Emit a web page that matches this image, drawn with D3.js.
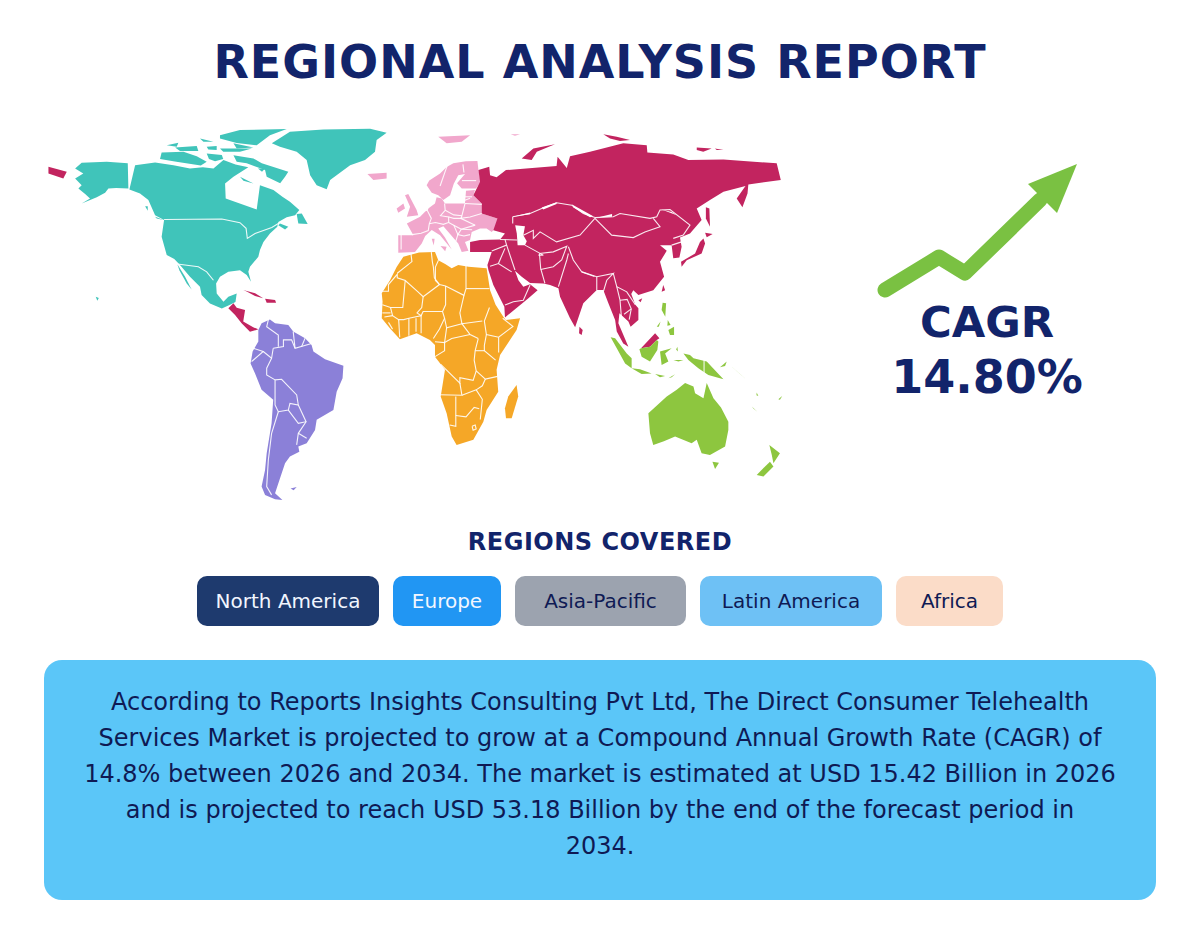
<!DOCTYPE html>
<html>
<head>
<meta charset="utf-8">
<title>Regional Analysis Report</title>
<script src="https://cdn.jsdelivr.net/npm/d3@7/dist/d3.min.js"></script>
<style>
  body { margin: 0; background: #fff; }
  text { font-family: "DejaVu Sans", sans-serif; }
</style>
</head>
<body>
<div id="chart"></div>
<script>
"use strict";

const titleText = "REGIONAL ANALYSIS REPORT";
const regionsHeading = "REGIONS COVERED";
const cagrLabel = "CAGR";
const cagrValue = "14.80%";

const regionNames = ["North America", "Europe", "Asia-Pacific", "Latin America", "Africa"];
const chipColors = ["#1E3A6E", "#2196F3", "#9CA3AF", "#6EC1F5", "#FBDCC8"];
const chipTextColors = ["#F2F6FF", "#F2F6FF", "#0F1A54", "#0F1A54", "#0F1A54"];

const summaryLines = [
    "According to Reports Insights Consulting Pvt Ltd, The Direct Consumer Telehealth",
    "Services Market is projected to grow at a Compound Annual Growth Rate (CAGR) of",
    "14.8% between 2026 and 2034. The market is estimated at USD 15.42 Billion in 2026",
    "and is projected to reach USD 53.18 Billion by the end of the forecast period in",
    "2034."
];

// Outlines are [lon, lat] rings
const northAmericaLand = [
    [[-163.4,68.6],[-151.1,69],[-140.8,68.4],[-140.5,59.1],[-146.5,59.3],[-150.3,59.1],[-151.9,57.5],[-156,55.8],[-163.4,53.5],[-159.3,55.4],[-161.7,57],[-165,59.1],[-163.4,60.3],[-166.6,62.8],[-162.6,64.6],[-166.6,66.5]],
    [[-137.2,67.7],[-127.4,68.7],[-118.4,67.7],[-110.3,66.5],[-104,66.9],[-98.8,66.5],[-93.9,69.6],[-88,68],[-81.7,66.9],[-89,63.4],[-93.1,60.9],[-92.8,55.4],[-77.6,51.3],[-76,60.3],[-69.4,58.5],[-65,56],[-61.3,54.2],[-56.7,51.1],[-58.8,49.2],[-62.9,48.4],[-67,46.7],[-67.5,44.9],[-71.1,42.4],[-74.3,39.3],[-76,36.3],[-76.8,33.8],[-80.9,30.1],[-81.7,28.2],[-80.4,24.5],[-82.5,27],[-85.8,28.8],[-91.5,28.2],[-95.6,26.4],[-97.5,23.9],[-97.2,20.2],[-93.9,17.1],[-91.5,19],[-87.4,20.2],[-88,17],[-91.2,15.8],[-94.7,14.6],[-100.5,16.5],[-104.6,19.6],[-105.4,22.7],[-110.3,26.4],[-115.2,30.7],[-118,33],[-121.7,34.4],[-124.2,41.2],[-123,47.4],[-127.4,49.2],[-130.7,54.8],[-134.8,57.2],[-140,58.7]],
    [[-116.5,31],[-112.7,26.4],[-109.5,21.7],[-111.9,23.9],[-115.5,28.8]],
    [[-89,71.4],[-79.2,70.2],[-75.1,68.4],[-62.1,65.3],[-63.7,63.4],[-66.1,61],[-72.7,63.4],[-73.5,65.9],[-82.5,68.4],[-87.4,69]],
    [[-124.2,72.4],[-113.5,72.7],[-107,71],[-102.1,69],[-105,67.6],[-117,69],[-125,70]],
    [[-95.6,78.8],[-85.8,80.7],[-62.9,81.1],[-71.1,78.8],[-77.6,75.1],[-87.4,75.9],[-95.6,77.6]],
    [[-89,75.8],[-79.2,74.3],[-87.4,73.9]],
    [[-121.7,75.1],[-116,76],[-116.8,74.5]],
    [[-117.6,74.3],[-107,74.8],[-106.2,73],[-115.2,73]],
    [[-102.1,74.5],[-97.2,74.8],[-97.2,73.3],[-101.3,73.5]],
    [[-105.4,77.6],[-98.8,76.4],[-103.7,76.4]],
    [[-102.1,72],[-94.7,71.5],[-94,70],[-98,69.2],[-101,70]],
    [[-95.6,73.9],[-80,73.9],[-85.8,72.7],[-94,72.7]],
    [[-58,49.6],[-55.5,49.8],[-52.6,45.9],[-57.2,46.1]],
    [[-66.2,46.1],[-62.1,44.9],[-63.7,43.9],[-67,45.5]],
    [[-85.8,63.4],[-79.2,60.9],[-84.1,61.9]],
    [[-77,66.5],[-73.5,66.5],[-75,65.3]],
    [[-127.4,48.6],[-123.3,47.4],[-126.6,48]],
    [[-132.3,52.5],[-131,52.5],[-131,50.8]],
    [[-156.5,19],[-155,18.5],[-155.7,17.5]],
    // Greenland
    [[-70.2,75.8],[-61.3,80.1],[-44.9,80.9],[-22,81.2],[-13.9,79.7],[-18.8,77],[-19.6,72.7],[-24.5,69.6],[-31.8,67.7],[-41.6,62.2],[-43.3,58.8],[-48.2,60.3],[-51.4,64],[-53.1,69.6],[-58,72.7],[-66.2,74.5]]
];
const northAmericaBorders = [
    [[-123,47.6],[-94.7,47.8],[-85.8,46.4],[-82.8,44.3],[-82.2,40.6],[-78.4,42.4],[-70.2,44.6],[-67,46.1]],
    [[-116.5,31.1],[-106.2,30.1],[-102.1,28.2],[-98.8,25.1]]
];

const europeLand = [
    [[-8.2,41.8],[-8.2,35.3],[0,35.6],[3.3,38.7],[5,41.5],[8.2,43.7],[12.3,41.8],[18,36.5],[14.7,40.9],[11.4,44.3],[13.9,45.1],[21.2,38.7],[22.9,35.6],[26.2,36],[24.5,39.3],[27,40],[27.8,43],[31.9,44.3],[35.1,44.3],[37.6,43],[40.4,45.1],[40.4,48],[32.7,49.8],[32.7,53.5],[28.6,56.6],[29.4,58.5],[25,58.2],[24.5,53.5],[14.7,53.5],[13.1,55.4],[10.6,55.8],[9.8,53.5],[6.5,51.7],[2.5,48.6],[-4,46.1],[-0.8,41.8]],
    [[5.7,60.3],[7,62],[12.3,64.6],[15.5,67],[18.8,68.4],[24.9,69.2],[30.6,69.3],[31.1,65.9],[32.2,61.6],[29.9,59.1],[22.9,59.1],[20.6,61],[24.5,64.4],[21.2,64],[19,60.8],[17.2,56.6],[13.9,54.8],[11.4,56.6],[8.2,57.5]],
    [[-4.9,56.6],[-3.3,57],[0.8,51.1],[1.6,49.2],[-4,48.6],[-2.4,52.3]],
    [[-9,51.7],[-5.7,53.5],[-4.9,51.7],[-8.2,50.1]],
    [[11.4,78.2],[27,78.8],[22.9,76.4],[15.5,75.8]],
    [[46.9,79.2],[51.5,79.2],[49,78.6]],
    [[-23.3,64.4],[-13.9,64.9],[-13.9,62.8],[-20.4,62.2]],
    [[12.5,37.8],[15.5,37.5],[14.8,35.8]],
    [[8.2,40.5],[9.6,40.5],[9.2,38]]
];
const europeBorders = [
    [[-1.5,42],[3,42.5],[6.5,43.5],[7,46],[8,48],[6,51],[2.5,50.5]],
    [[7,46],[10,46.5],[13.9,45.8],[16.5,46.5],[16.5,48.5],[12.5,49],[14.8,51],[14.5,53.5]],
    [[-6.8,41.9],[-6.8,36.5]],
    [[6,51],[7,53.5]],[[9,54.8],[9,53.5]],
    [[14.8,51],[19,49.3],[23,49],[24.5,53.5]],
    [[16.5,48.5],[19,48],[22.5,48],[29.5,45.5]],
    [[23,49],[22.5,48],[27,48.5],[32.7,49.8]],
    [[29.5,45.5],[22.7,44],[21,42],[24,41.5],[27,42]],
    [[22.7,44],[28,43.8]],[[16.5,46.5],[19,45.5],[22.7,44]],[[19,45.5],[21,42],[20,39.5]],
    [[24.5,53.5],[32.7,53.2]],[[24.5,56],[28,56]],[[23.8,54.5],[27,55.5]],
    [[12.3,60],[16,68]],[[23.5,68],[24,65]],[[30,62],[23,62]]
];

const asiaLand = [
    [[31.1,65.9],[36.4,67.1],[36.8,64],[40,63.2],[44.6,65.9],[69.4,67.4],[69.9,70.8],[74.4,66.7],[76,71],[85.8,72.7],[102.1,75.8],[113.6,75.1],[113.9,72.4],[126.6,71.7],[134,69.6],[151.2,69.8],[177.3,68.4],[179.3,62.2],[163.4,60.6],[163,57.2],[160.5,52.1],[157.7,55.4],[162,60],[151.2,57.9],[144.6,54.8],[138.1,51.7],[140.5,47.4],[134.8,42.4],[129.9,40.9],[130.7,37.5],[129.6,33.5],[126.6,33.2],[125.8,38.1],[120.1,38.1],[123.4,36],[120.1,31.9],[122.1,26.4],[116.8,21.4],[109.5,19.6],[107,21.4],[106,20],[108,16],[109.5,14.7],[109.5,10.4],[105.7,7.9],[104.6,9.8],[100.2,12.9],[99.7,9.2],[104.6,0.5],[102.1,1.7],[98.9,6.1],[98.1,10.4],[94.8,16.6],[92.3,21.5],[89.1,21.5],[82.5,16.6],[78.5,7.7],[76,11],[71.1,19],[70.3,22.1],[66.2,23.3],[62.9,23.9],[56.4,24.1],[52.3,26.4],[49,28.6],[50.7,25.1],[53.1,22.7],[56.4,23.6],[60.1,21.4],[55.6,18.4],[44.1,11.3],[43.8,15.3],[38.4,23.3],[36,28.8],[35.5,30.7],[37.6,35.6],[27,35.6],[27,39.3],[31.9,40],[41.7,40.2],[44.1,42.4],[38.4,43.6],[40.4,48],[32.7,49.8],[32.7,53.5],[28.6,56.6],[31.9,61.6]],
    [[52.3,70.2],[58,73.9],[68.6,75.5],[59.7,72.7],[57.2,69.6]],
    [[92.3,79.2],[98.9,78.2],[105.4,77],[100.5,76.7],[95.6,77.6]],
    [[138.1,74.3],[145.4,73.9],[141.3,72.7],[138.1,73.3]],
    [[147,73.9],[151.2,73.3],[147.9,73.3]],
    [[80.6,7.9],[82.2,6.7],[81.7,4.8],[80.4,5.5]],
    [[109.5,17.7],[111.4,18.4],[110.6,16.9]],
    [[121.7,23.3],[122.6,21.4],[120.9,20.8]],
    [[141.4,40.6],[142.2,38.7],[140.5,35],[133.2,32.5],[130.7,30.1],[130.4,31.9],[137.3,35],[139.7,39.3]],
    [[142.2,42.7],[145.9,42.2],[143,41]],
    [[142.6,52.1],[144.3,51.7],[144.6,44.9],[142.6,48]],
    [[110.8,-0.1],[117.7,5.5],[119.8,3.6],[118.5,3],[115.2,0.5]],
    // Russian far east past the date line, Caribbean and Central America
    [[-179.7,67.1],[-170.7,65.3],[-172.4,62.8],[-179.7,64.6]],
    [[-91.5,14.7],[-89,16.6],[-87.4,14.9],[-83.3,14.1],[-84.2,9.8],[-79.3,7.7],[-76.8,6.9],[-80.9,6],[-85,9.2],[-88.2,12.2]],
    [[-84.2,21.5],[-78.4,20.3],[-74.4,18.4],[-78.4,19.3],[-82.5,20.9]],
    [[-73.5,18.2],[-68.6,17.8],[-68.1,16.8],[-72.7,16.8]]
];
const caspianSea = [[49.1,45.5],[53.9,45.1],[53.1,41.8],[54.8,39.5],[53.9,38.1],[50.3,38.1],[49.9,42.4]];
// Wider white slivers along the northern Kazakh, Mongolian and Amur borders
const borderSlivers = [
    [[47.9,48.6],[56.4,50.2],[56.4,49.5]],
    [[62.1,52],[69.4,54],[69.4,53.3],[62.9,51.3]],
    [[76.8,53.2],[87.4,48.8],[85.8,48.4],[77.6,52]],
    [[89.9,48.4],[96.6,49.6],[96.6,48.6]],
    [[120.9,51.3],[128.3,49.2],[125.8,50.4]]
];
const asiaBorders = [
    [[47.9,48.6],[56.4,49.8],[62.1,51.7],[69.4,53.8],[76.8,52.9],[82.5,49.8],[88.2,48.3]],
    [[88.2,48.3],[97.2,48.6],[100.5,49.8],[115.2,48],[118.5,48.6],[120.1,51.1],[125,51.3],[134.8,45.5],[131.5,41.8],[126.6,40.6]],
    [[88.2,48],[96.4,41.8],[107,40.9],[112.7,43],[120.1,44.9],[116.8,48]],
    [[47.9,48.6],[47.9,46.1]],
    [[53.1,41.8],[58,43.6],[58,40.6],[61.3,43],[69.4,39.3],[80.9,41.8],[88.2,48]],
    [[53.9,38.1],[62.9,34.4],[60.5,34.4]],
    [[61,35],[61.6,29.5],[63.7,23.9]],
    [[61,35],[67.8,35.6],[74.4,37.7],[71.9,32.6],[67.8,30.1],[61.6,29.1]],
    [[75.2,35],[74.4,32.6],[70.3,22.7]],
    [[75.2,37.5],[77.6,32.6],[81.7,28.2],[89.1,26.4],[97.2,27.6],[94,25.1],[92.3,20.8]],
    [[81.7,28.2],[88,26.5]],[[89.1,26.4],[89.1,21.4]],
    [[97.2,27.6],[98.9,22.7],[103.8,20.8],[108,16]],
    [[98.9,22.7],[100.5,17.7],[101.3,10.3]],
    [[100.5,17.7],[104,18],[106,14.5],[105,10.5]],[[102.5,12.5],[106,14.5]],
    [[37.6,35.9],[44.9,38.1],[44.1,40.2]],
    [[44.9,38.1],[49,28.9]],
    [[36.8,30.3],[40.9,31.3],[47.4,28.2]],
    [[40.9,31.3],[44.1,36.9]],
    [[44.1,15.9],[48.2,17.1],[53.1,17.7],[56.4,23.3]],
    [[125.8,38.1],[130.7,39.3]],
    [[41.7,40.2],[50,40]]
];

const africaLand = [
    [[-12.25,25.1],[-9,30],[-5.7,33.8],[2,35.4],[9.8,35.6],[11.4,32.5],[15,31],[18,29.5],[21.2,30.7],[26.2,30.1],[35.1,29.5],[36.8,21.4],[39.5,16],[43.3,11.6],[44.5,10.4],[51.5,11],[49.8,6.7],[41.7,-2.6],[40,-8.1],[40.8,-16.2],[35.1,-23],[33.5,-27.3],[28.6,-34],[20.4,-35.9],[18,-32.8],[15.5,-24.2],[12.6,-18],[14.7,-8.1],[9.8,-3.2],[9.8,1.1],[7.3,3],[0.8,5.5],[-7.4,3.2],[-12.3,7.3],[-16.3,11],[-15.9,17.2],[-16.3,20.3]],
    [[49.8,-13.7],[50.6,-18],[47.4,-26],[44.6,-26],[44.1,-22.3],[45.7,-18]]
];
const africaBorders = [
    [[-2,35],[-1.5,32],[-8.7,27.7]],
    [[-16,21],[-13,21],[-13,23.5],[-8.7,27.3],[-8.7,26],[-4.8,25],[-6,15],[-12,15],[-16,16]],
    [[-4.8,25],[1.2,21],[4,19],[12,23.5],[9.5,26],[9,30],[8.5,32],[8,35.5]],
    [[11.5,32.5],[10,30],[10,25],[12,23.5],[15,23],[24,19.5],[25,22],[25,30.5]],
    [[25,22],[36.5,22]],
    [[24,19.5],[22,13],[23,9],[27,5],[31,3.5]],
    [[15,23],[15,16],[13.5,13.5],[4,13.5],[3,12],[1,13],[3.3,15],[4,19]],
    [[-12,15],[-11,12],[-8,10.5],[-5.5,10.5],[-3,11],[3,12],[3,5.5]],
    [[13.5,13.5],[14.5,11],[12,7],[9,3.5]],
    [[14.5,11],[15.5,7.5],[23,9],[33,10]],
    [[15.5,7.5],[14.5,2],[9.8,2.3]],
    [[14.5,2],[18,3.5],[27,5]],
    [[31,3.5],[29.5,-1],[29,-4.5],[30,-8.5],[28.5,-12],[22,-11],[22,-13],[12.5,-6]],
    [[36.5,15],[34,10],[35,5],[41,4],[48,8],[43,11]],
    [[35,5],[34,1],[34,-1],[39.5,-4.5]],
    [[41,4],[41,-1.7]],
    [[34,-1],[29.5,-1]],
    [[30,-8.5],[34.5,-11.5],[40.5,-10.5]],
    [[11.8,-17.3],[23,-17.5],[22,-13]],
    [[20,-18],[20,-29],[17,-28.5]],
    [[23,-17.5],[30,-15.5],[33,-14],[34.5,-11.5]],
    [[30,-15.5],[33,-19],[32,-26.5]],
    [[20,-25],[25,-25.5],[29,-22],[31.5,-22.5]],
    [[-3,11],[-3,4.5]],[[0.5,11],[0.5,6]],[[-8,10.5],[-7.5,4]],
    [[-13,9.5],[-11,7]],[[-15,11.5],[-11,12]],[[-16,13],[-12,13]],
    [[28,-29],[29.5,-28.5],[30,-30],[28.5,-30.5],[28,-29]],
    [[9.8,-3.2],[14.5,-1],[14.5,2]]
];

const latinAmericaLand = [
    [[-76.8,6.7],[-75.2,9.2],[-71.1,10.6],[-68.6,9.2],[-62.1,8.5],[-59.7,6.1],[-53.9,3.6],[-50.7,1.1],[-49.8,-1.3],[-44.1,-4.2],[-35.1,-6.6],[-35.5,-11.2],[-38.4,-16.2],[-40,-23],[-48.2,-26.6],[-49,-30.4],[-53.1,-35.3],[-57.2,-36.5],[-56.7,-38.4],[-61.3,-40.2],[-63.7,-42.7],[-66.2,-48.3],[-68.6,-53.8],[-65,-56.3],[-68.6,-56],[-73.5,-54.4],[-75.2,-51.3],[-73.5,-45.2],[-72.7,-39],[-70.3,-27.9],[-69.5,-19.2],[-75.2,-15.5],[-78.4,-9.4],[-80.6,-5.7],[-79.6,-1.3],[-76.8,2.4]],
    [[-61,-52],[-58,-51.5],[-59.5,-52.7]]
];
const latinAmericaBorders = [
    [[-71.9,10.4],[-72.7,7.9],[-67,4.8],[-67,0.5]],
    [[-69.5,-0.1],[-64.5,0.5],[-64.5,3],[-60.5,3],[-58.8,-0.1],[-50.7,1.7]],
    [[-59.7,6.1],[-58.8,-0.1]],[[-53.9,3.6],[-55.6,0.5]],
    [[-79.3,-0.1],[-74.4,-1.3],[-80.1,-5]],
    [[-74.4,-1.3],[-70.3,-3.8],[-69.5,-0.1]],
    [[-70.3,-3.8],[-72.7,-7.5],[-72.7,-10],[-68.6,-11.8]],
    [[-68.6,-11.8],[-65.4,-11.6],[-58,-17.4],[-57.2,-21.1],[-61.3,-20.5],[-62.1,-23],[-67,-23.6],[-68.6,-21.1],[-68.6,-11.8]],
    [[-67,-23.6],[-70.3,-31.6],[-71.9,-41.5],[-72.7,-51.3],[-70.3,-54.4]],
    [[-62.1,-23],[-57.2,-27.9],[-53.4,-27.3],[-57.2,-21.1]],
    [[-53.4,-27.3],[-57.2,-31.6],[-58,-35.9]],[[-57.2,-31.6],[-53.1,-33.4]]
];

const oceaniaLand = [
    [[121.4,16.8],[123.1,16.6],[122.7,11.6],[120.9,14.1]],
    [[123.9,10.4],[125.3,8.5],[123.7,8.2]],
    [[124.2,6.7],[127,7.9],[127,4.8],[125,4.8]],
    [[118.5,7.9],[120.4,9.8],[119.5,7.9]],
    [[95.9,4],[98.1,3.6],[103.8,-2],[106.2,-3.8],[106.2,-7.5],[103,-5.7],[98.9,-0.1]],
    [[106.2,-7.5],[110.3,-7.9],[116,-9.4],[111.1,-9.6]],
    [[117.7,-9.6],[122.6,-10.4],[120.1,-10.8]],
    [[124.2,-11.2],[127.5,-9.7],[125.8,-10.8]],
    [[110,-0.5],[110.8,-0.1],[115.2,0.5],[118.5,3],[119.3,2.4],[118.8,-0.7],[115.2,-5],[111.1,-3.2]],
    [[120.1,-1.3],[125.8,-0.1],[122.6,-2],[124.2,-5],[120.9,-6.3]],
    [[128.6,0.5],[128.9,-1.3],[128,-0.6]],
    [[126.7,-4.4],[131.6,-4.4],[129.1,-5]],
    [[131.6,-2],[134.8,-2.6],[136.5,-3.8],[143,-5],[151.2,-11.6],[143.8,-10],[138.9,-7.5],[134,-4.4]],
    [[149.5,-7.1],[152.8,-5],[152,-6.7]],
    [[155.3,-6.9],[162.6,-11.8],[159.3,-9.6]],
    [[165.1,-21.7],[167.8,-23.6],[166,-22.5]],
    [[167.5,-16.5],[168.3,-17.8],[167.4,-17.5]],
    [[178.1,-19],[180,-17.8],[178.9,-19.2]],
    [[114.4,-24.2],[123.4,-18],[128.3,-15.5],[132.4,-13],[136.5,-14.3],[137.3,-16.8],[141.4,-18.6],[143,-13],[146.3,-18.6],[150,-22],[153.6,-27.3],[153.6,-30.4],[152,-36.5],[144.6,-39.6],[140.5,-39],[138.1,-34],[135.6,-35.3],[127.5,-32.8],[122,-34.5],[116.8,-35.9],[115.2,-31.6]],
    [[145.8,-42.1],[149,-42.5],[147.1,-44.8]],
    [[173.7,-35.9],[178.9,-39],[175.7,-42.7],[174.9,-39.6]],
    [[174,-42.1],[167.5,-47],[170.8,-47.6],[175.7,-43.9]]
];
const oceaniaBorders = [[[141.7,-3.8],[141.7,-10]]];

const mapLayers = [
    { land: northAmericaLand, borders: northAmericaBorders, color: "#40C4BA" },
    { land: europeLand, borders: europeBorders, color: "#F1A7CC" },
    { land: asiaLand, borders: asiaBorders, color: "#C2245F" },
    { land: africaLand, borders: africaBorders, color: "#F5A727" },
    { land: latinAmericaLand, borders: latinAmericaBorders, color: "#8B80D8" },
    { land: oceaniaLand, borders: oceaniaBorders, color: "#8DC63F" }
];

const width = 1200, height = 940;
const navy = "#12246B";

const svg = d3.select("#chart").append("svg")
    .attr("width", width)
    .attr("height", height)
    .attr("viewBox", `0 0 ${width} ${height}`)
    .style("display", "block");

// Title
svg.append("text")
    .attr("x", 600).attr("y", 78)
    .attr("text-anchor", "middle")
    .attr("font-size", 46).attr("font-weight", "bold")
    .attr("letter-spacing", 1)
    .attr("fill", navy)
    .text(titleText);

// Map: plain lon/lat scales, the reference is a stretched equirectangular
const lonScale = d3.scaleLinear().domain([-180, 180]).range([47.8, 782.2]);
const latScale = d3.scaleLinear().domain([-60, 85]).range([510, 118.5]);
const ringPath = d3.line().x(d => lonScale(d[0])).y(d => latScale(d[1]));

const map = svg.append("g").attr("class", "map");

mapLayers.forEach(layer => {
    map.append("g").selectAll("path")
        .data(layer.land)
        .join("path")
        .attr("d", d => ringPath(d) + "Z")
        .attr("fill", layer.color);
});
map.append("g").selectAll("path")
    .data([caspianSea, ...borderSlivers])
    .join("path")
    .attr("d", d => ringPath(d) + "Z")
    .attr("fill", "#fff");
mapLayers.forEach(layer => {
    map.append("g").selectAll("path")
        .data(layer.borders)
        .join("path")
        .attr("d", ringPath)
        .attr("fill", "none")
        .attr("stroke", "#fff")
        .attr("stroke-opacity", 0.9)
        .attr("stroke-width", 1.1);
});

// Growth arrow
const arrow = svg.append("g").attr("fill", "#7AC142");
arrow.append("path")
    .attr("d", "M885,290L939,257L965,273L1040,200")
    .attr("fill", "none")
    .attr("stroke", "#7AC142")
    .attr("stroke-width", 15)
    .attr("stroke-linecap", "round")
    .attr("stroke-linejoin", "round");
arrow.append("path").attr("d", "M1077,164L1028,184L1057,213Z");

svg.append("text")
    .attr("x", 987).attr("y", 337)
    .attr("text-anchor", "middle")
    .attr("font-size", 43.3).attr("font-weight", "bold")
    .attr("fill", navy)
    .text(cagrLabel);
svg.append("text")
    .attr("x", 987).attr("y", 393)
    .attr("text-anchor", "middle")
    .attr("font-size", 46).attr("font-weight", "bold")
    .attr("fill", navy)
    .text(cagrValue);

// Region chips, widths as measured on the reference
svg.append("text")
    .attr("x", 600).attr("y", 550)
    .attr("text-anchor", "middle")
    .attr("font-size", 24).attr("font-weight", "bold")
    .attr("letter-spacing", 0.5)
    .attr("fill", navy)
    .text(regionsHeading);

const chipGap = 14, chipTop = 576, chipHeight = 50;
const chipWidths = [182, 108, 171, 182, 107];
let chipX = 600 - (d3.sum(chipWidths) + chipGap * (regionNames.length - 1)) / 2;
const chips = svg.append("g").selectAll("g")
    .data(regionNames)
    .join("g");
chips.each(function (d, i) {
    const g = d3.select(this);
    g.append("rect")
        .attr("x", chipX).attr("y", chipTop)
        .attr("width", chipWidths[i]).attr("height", chipHeight)
        .attr("rx", 10)
        .attr("fill", chipColors[i]);
    g.append("text")
        .attr("x", chipX + chipWidths[i] / 2)
        .attr("y", chipTop + chipHeight / 2 + 7)
        .attr("text-anchor", "middle")
        .attr("font-size", 20)
        .attr("fill", chipTextColors[i])
        .text(d);
    chipX += chipWidths[i] + chipGap;
});

// Summary box
svg.append("rect")
    .attr("x", 44).attr("y", 660)
    .attr("width", 1112).attr("height", 240)
    .attr("rx", 18)
    .attr("fill", "#5BC6F8");
svg.append("g").selectAll("text")
    .data(summaryLines)
    .join("text")
    .attr("x", 600)
    .attr("y", (d, i) => 710 + i * 36)
    .attr("text-anchor", "middle")
    .attr("font-size", 24)
    .attr("fill", "#0F1A54")
    .text(d => d);
</script>
</body>
</html>
